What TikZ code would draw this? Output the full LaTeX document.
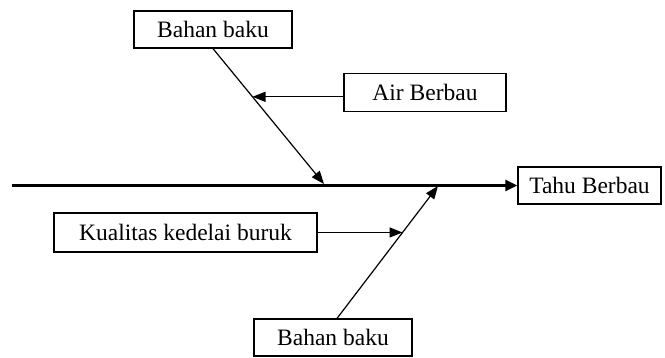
\documentclass[tikz,border=0pt]{standalone}
\usepackage{fontspec}
\setmainfont{Liberation Serif}
\usetikzlibrary{arrows.meta}
\begin{document}
\begin{tikzpicture}[x=1pt,y=-1pt,
  causebox/.style={draw,line width=1.2pt,inner sep=0pt,
    font=\fontsize{23.5}{28}\selectfont},
  bone/.style={line width=1.2pt,-{Triangle[length=13pt,width=10pt]}},
  spine/.style={line width=2.6pt,-{Triangle[length=12pt,width=11pt]}}]
  \useasboundingbox (0,0) rectangle (665,357);
  % cause and effect boxes
  \node[causebox,minimum width=158pt,minimum height=37pt] (bb1) at (213,29.5) {Bahan baku};
  \node[causebox,minimum width=162pt,minimum height=38pt] (air) at (425,92.5) {Air Berbau};
  \node[causebox,minimum width=143pt,minimum height=37pt] (tahu) at (589.5,185.5) {Tahu Berbau};
  \node[causebox,minimum width=263pt,minimum height=39pt] (kual) at (185.5,232.5) {Kualitas kedelai buruk};
  \node[causebox,minimum width=158pt,minimum height=37pt] (bb2) at (333,337.5) {Bahan baku};
  % spine
  \coordinate (tail) at (12,185.5);
  \draw[spine] (tail) -- (tahu.west);
  % joints of the bones on the spine
  \coordinate (j1) at (324,184);
  \coordinate (j2) at (438,186);
  \coordinate (b2) at ([xshift=4pt]bb2.north);
  \path (bb1.south) -- (j1) coordinate[pos=0.356] (a1);
  \path (b2) -- (j2) coordinate[pos=0.649] (a2);
  % bones
  \draw[bone] (bb1.south) -- (j1);
  \draw[bone] (b2) -- (j2);
  \draw[bone] (air.west |- a1) -- (a1);
  \draw[bone] (kual.east |- a2) -- (a2);
\end{tikzpicture}
\end{document}
